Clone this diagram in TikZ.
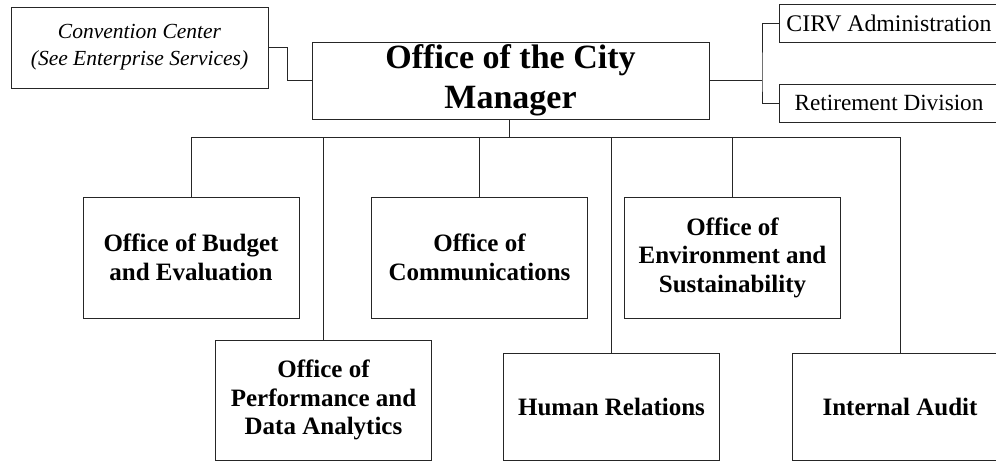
\documentclass[tikz,border=0pt]{standalone}
\usepackage{fontspec}
\setmainfont{Liberation Serif}
\begin{document}
\begin{tikzpicture}[x=1pt,y=-1pt,
  box/.style={draw=black!85, line width=0.8pt, inner sep=0pt, align=center, fill=white},
  bigbox/.style={box, minimum width=216pt, font=\fontsize{25}{28.5}\selectfont\bfseries},
  link/.style={draw=black!85, line width=0.8pt}]
\useasboundingbox (0,0) rectangle (996,461);
\clip (0,0) rectangle (996,461);
% top row
\node[box, minimum width=257pt, minimum height=81pt, font=\fontsize{21.5}{27}\selectfont\itshape] (conv) at (139.5,47.5) {Convention Center\\(See Enterprise Services)};
\node[box, minimum width=397pt, minimum height=77pt, font=\fontsize{34}{40}\selectfont\bfseries] (main) at (510.5,80.5) {Office of the City\\Manager};
\node[box, minimum width=220pt, minimum height=38pt, font=\fontsize{23.8}{26}\selectfont] (cirv) at (889,23) {CIRV Administration};
\node[box, minimum width=220pt, minimum height=38pt, font=\fontsize{23.2}{26}\selectfont] (ret) at (889,103) {Retirement Division};
% second row
\node[bigbox, minimum height=121pt] (budget) at (191,257.5) {Office of Budget\\and Evaluation};
\node[bigbox, minimum height=121pt] (comm) at (479.5,257.5) {Office of\\Communications};
\node[bigbox, minimum height=121pt] (env) at (732.5,257.5) {Office of\\Environment and\\Sustainability};
% third row
\node[bigbox, minimum height=120pt] (perf) at (323.5,400) {Office of\\Performance and\\Data Analytics};
\node[bigbox, minimum height=107pt] (hr) at (611.5,406.5) {Human Relations};
\node[bigbox, minimum height=107pt] (audit) at (900,406.5) {Internal Audit};
% connectors
\coordinate (rj) at (762,80.5);
\coordinate (bar) at (509,137);
\draw[link] (conv.east) -- ++(19,0) |- (main.west);
\draw[link] (main.east) -- (rj);
\draw[link] (cirv.west) -| (rj) |- (ret.west);
\draw[link] (main.south -| bar) -- (bar);
\draw[link] (budget.north |- bar) -- (audit.north |- bar);
\foreach \n in {budget,perf,comm,hr,env,audit}
  \draw[link] (\n.north |- bar) -- (\n.north);
\end{tikzpicture}
\end{document}
